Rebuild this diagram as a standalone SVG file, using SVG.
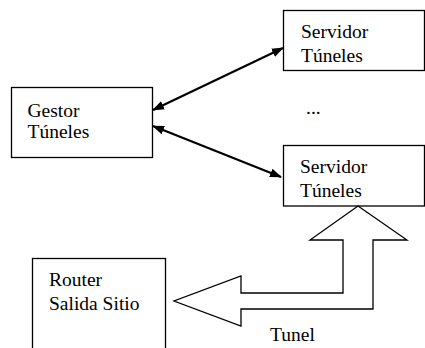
<svg xmlns="http://www.w3.org/2000/svg" width="425" height="348" viewBox="0 0 425 348">
<defs>
<style>
.box{fill:#fff;stroke:#000;stroke-width:1.3}
.t{font-family:'Liberation Serif','Times New Roman',Times,serif;font-size:19.5px;fill:#000}
.c{stroke:#000;stroke-width:2.2;fill:none}
</style>
<marker id="ah" markerUnits="userSpaceOnUse" markerWidth="12" markerHeight="10" viewBox="0 0 12 10" refX="11" refY="5" orient="auto-start-reverse">
<path d="M0,0.5 L12,5 L0,9.5 Z" fill="#000"/>
</marker>
</defs>
<rect width="425" height="348" fill="#fff"/>
<g id="servidor1">
<rect class="box" x="283.5" y="10.5" width="141" height="60"/>
<text class="t" font-family="Liberation Serif, serif" x="301" y="38">Servidor</text>
<text class="t" font-family="Liberation Serif, serif" x="301" y="62">Túneles</text>
</g>
<g id="gestor">
<rect class="box" x="11.5" y="87.5" width="141" height="70"/>
<text class="t" font-family="Liberation Serif, serif" x="27.5" y="117">Gestor</text>
<text class="t" font-family="Liberation Serif, serif" x="27.5" y="137.5">Túneles</text>
</g>
<g id="dots">
<text class="t" font-family="Liberation Serif, serif" x="306" y="114">...</text>
</g>
<g id="servidor2">
<rect class="box" x="283.5" y="145.5" width="141" height="60.5"/>
<text class="t" font-family="Liberation Serif, serif" x="300" y="173">Servidor</text>
<text class="t" font-family="Liberation Serif, serif" x="300" y="197">Túneles</text>
</g>
<g id="router">
<rect class="box" x="32.5" y="258.5" width="133" height="100"/>
<text class="t" font-family="Liberation Serif, serif" x="49" y="286">Router</text>
<text class="t" font-family="Liberation Serif, serif" x="49" y="310">Salida Sitio</text>
</g>
<g id="connectors">
<line class="c" x1="153" y1="110" x2="283" y2="48" marker-start="url(#ah)" marker-end="url(#ah)"/>
<line class="c" x1="153" y1="126" x2="281" y2="177" marker-start="url(#ah)" marker-end="url(#ah)"/>
<polygon class="box" points="358,206 407,240 373,240 373,309 241,309 241,326 174,301 241,276 241,293 343,293 343,240 310,240"/>
<text class="t" font-family="Liberation Serif, serif" x="270" y="341">Tunel</text>
</g>
</svg>
